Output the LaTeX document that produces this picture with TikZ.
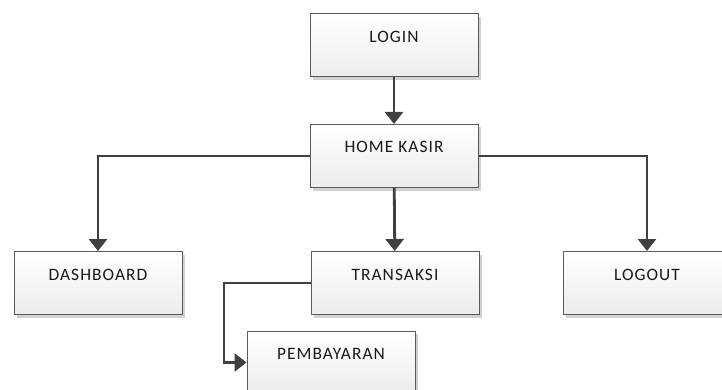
\documentclass[tikz,border=0pt]{standalone}
\usepackage{fontspec}
\setmainfont{Carlito}[LetterSpace=6]
\usetikzlibrary{arrows.meta,shadows}
\definecolor{linec}{HTML}{404040}
\definecolor{boxline}{HTML}{5A5A5A}
\definecolor{boxbot}{HTML}{ECECEC}
\tikzset{
  box/.style={draw=boxline, line width=1pt, top color=white, bottom color=boxbot,
    minimum width=168pt, minimum height=63pt, inner xsep=0pt, inner ysep=0pt,
    text height=28.5pt, text depth=34.5pt,
    font=\fontsize{17.4}{20}\selectfont, text=black!90,
    drop shadow={shadow xshift=3pt, shadow yshift=-3pt, fill=black!18, opacity=1}},
  conn/.style={draw=linec, line width=2.8pt, -{Triangle[width=18pt,length=12pt]}}
}
\begin{document}
\begin{tikzpicture}[x=1pt,y=-1pt]
\useasboundingbox (0,0) rectangle (722,390);
\clip (0,0) rectangle (722,390);
\node[box] (login) at (394,45.5) {LOGIN};
\node[box] (home) at (394,156) {HOME KASIR};
\node[box] (dash) at (98,283) {DASHBOARD};
\node[box] (trans) at (395,283) {TRANSAKSI};
\node[box] (logout) at (647,283) {LOGOUT};
\node[box] (pemb) at (331,362.5) {PEMBAYARAN};
\coordinate (tc) at (224,283);
\draw[conn] (login) -- (home);
\draw[conn] (home) -- (trans);
\draw[conn] (home.west) -| (dash.north);
\draw[conn] (home.east) -| (logout.north);
\draw[conn] (trans.west) -- (tc) |- (pemb.west);
\end{tikzpicture}
\end{document}
